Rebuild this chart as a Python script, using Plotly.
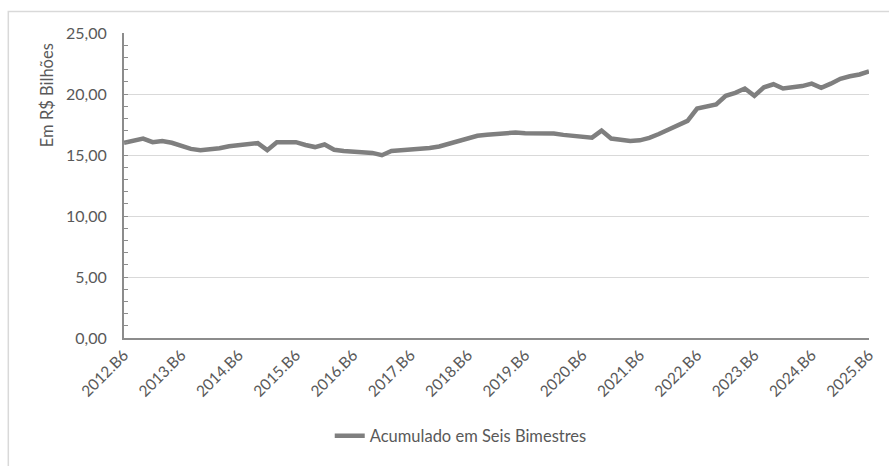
import plotly.graph_objects as go

# Acumulado em seis bimestres, R$ bilhões, de 2012.B6 a 2025.B6
anos = list(range(2012, 2026))
bimestres = ['B1', 'B2', 'B3', 'B4', 'B5', 'B6']
periodos = ['2012.B6'] + [f'{a}.{b}' for a in anos[1:] for b in bimestres]

acumulado = [
    16.00,
    16.20, 16.35, 16.05, 16.15, 16.00, 15.72,
    15.50, 15.40, 15.45, 15.55, 15.72, 15.82,
    15.90, 15.97, 15.40, 16.05, 16.05, 16.05,
    15.82, 15.65, 15.86, 15.43, 15.32, 15.27,
    15.22, 15.17, 14.98, 15.33, 15.38, 15.43,
    15.50, 15.57, 15.70, 15.92, 16.20, 16.45,
    16.58, 16.66, 16.73, 16.82, 16.85, 16.78,
    16.80, 16.82, 16.77, 16.65, 16.58, 16.50,
    16.42, 17.00, 16.35, 16.25, 16.15, 16.20,
    16.40, 16.72, 17.05, 17.40, 17.80, 18.80,
    18.95, 19.15, 19.85, 20.10, 20.45, 19.85,
    20.55, 20.80, 20.45, 20.55, 20.65, 20.85,
    20.50, 20.85, 21.25, 21.45, 21.60, 21.85,
]

rotulos_x = periodos[::6]
FONTE = 'Lato'
CINZA_TXT = '#595959'

fig = go.Figure()
fig.add_trace(go.Scatter(x=periodos, y=acumulado, mode='lines',
                         name='Acumulado em Seis Bimestres',
                         line=dict(color='#7f7f7f', width=4.5)))

fig.update_layout(
    width=889, height=466,
    margin=dict(l=124, r=20, t=33, b=122),
    paper_bgcolor='white', plot_bgcolor='white',
    separators=',.',
    font=dict(family=FONTE, color=CINZA_TXT, size=15),
    showlegend=True,
    legend=dict(orientation='h', x=0.452, xanchor='center', y=-0.3215, yanchor='middle',
                font=dict(size=16.5, color=CINZA_TXT)),
)
fig.update_xaxes(type='category', range=[0, 78], tickmode='array', tickvals=rotulos_x,
                 ticktext=rotulos_x, tickangle=-45, showgrid=False, ticks='',
                 showline=True, linecolor='#8c8c8c', linewidth=2,
                 tickfont=dict(size=15.5, color=CINZA_TXT))
fig.update_yaxes(range=[0, 25], dtick=5, tickformat='.2f', showgrid=True, gridcolor='#d9d9d9',
                 gridwidth=1, zeroline=False, showline=True, linecolor='#8c8c8c', linewidth=2,
                 ticks='inside', ticklen=4, tickcolor='#8c8c8c', ticklabelstandoff=12,
                 minor=dict(dtick=1, ticks='inside', ticklen=4, tickcolor='#8c8c8c', showgrid=False),
                 tickfont=dict(size=16, color=CINZA_TXT))

fig.add_annotation(text='Em R$ Bilhões', textangle=-90, xref='paper', yref='paper',
                   x=-0.103, y=0.797, xanchor='center', yanchor='middle', showarrow=False,
                   font=dict(size=16.5, color=CINZA_TXT))

# moldura da área do gráfico
fig.add_shape(type='rect', xref='paper', yref='paper', x0=-0.1553, x1=1.2, y0=-0.7, y1=1.0707,
              line=dict(color='#d9d9d9', width=1.5), layer='below')

# sem a margem padrão do body, para a figura ocupar a janela inteira
fig.write_html('out.html', config={'displayModeBar': False},
               post_script="document.body.style.margin='0';")
